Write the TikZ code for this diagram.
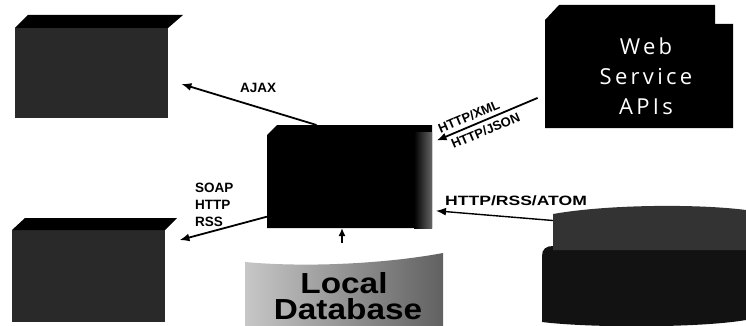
\documentclass[tikz,border=0pt]{standalone}
\usepackage{fontspec}
\setmainfont{Liberation Sans}
\newfontfamily\webfont[LetterSpace=15]{Open Sans}
\newfontfamily\widefont[FakeStretch=1.3]{Liberation Sans}
\newfontfamily\dbfont[FakeStretch=1.15]{Liberation Sans}
\usetikzlibrary{arrows.meta,calc}
\begin{document}
\begin{tikzpicture}[x=1pt,y=-1pt,
  hit/.style={draw=none,rectangle,inner sep=0pt,outer sep=0pt},
  lbl/.style={font=\fontsize{13.5}{16}\selectfont\bfseries,inner sep=0pt},
  rlbl/.style={font=\fontsize{13}{15}\selectfont\bfseries,inner sep=0pt},
  conn/.style={line width=1.8pt,-{Latex[length=10pt,width=8pt]}},
  darkbody/.style={fill=black!84},
  darktop/.style={fill=black}
]
\useasboundingbox (0,0) rectangle (746,326);

% ---- shapes ----
% top-left box
\fill[darkbody] (15,28) rectangle (168,118);
\fill[darktop] (15,28) -- (28,15) -- (183,15) -- (168,28) -- cycle;
% bottom-left box
\fill[darkbody] (12,230) rectangle (165,322);
\fill[darktop] (12,230) -- (25,218) -- (177,218) -- (165,230) -- cycle;
% centre box
\fill[black] (267,228) -- (267,135) -- (277,125) -- (432,125) -- (432,228) -- cycle;
\shade[left color=black,right color=black!60] (414,132) rectangle (432,228);
% web service box
\fill[black] (545,128) -- (545,20) -- (559,5) -- (715,5) -- (715,24) -- (733,24) -- (733,128) -- cycle;
% local database
\shade[left color=black!22,right color=black!62]
  (245,326) -- (245,262) .. controls (310,268) and (390,263) .. (443,253) -- (443,326) -- cycle;
% external source cylinder
\fill[black!93] (542,322) -- (542,256) .. controls (542,249) and (546,246) .. (553,246)
  -- (746,246) -- (746,320) .. controls (700,328) and (590,328) .. (542,322) -- cycle;
\fill[black!80] (553,250) -- (553,214) .. controls (610,204) and (700,204) .. (746,210)
  -- (746,250) -- cycle;

% ---- named nodes ----
\node[hit,minimum width=153pt,minimum height=103pt] (TL) at (91.5,66.5) {};
\node[hit,minimum width=153pt,minimum height=104pt] (BL) at (88.5,270) {};
\node[hit,minimum width=165pt,minimum height=103pt] (C) at (349.5,176.5) {};
\node[hit,minimum width=188pt,minimum height=123pt] (W) at (639,66.5) {};
\node[hit,minimum width=198pt,minimum height=71pt] (LDB) at (344,290.5) {};
\node[hit,minimum width=193pt,minimum height=44pt] (EXT) at (649.5,228) {};

\node[font=\webfont\fontsize{22}{30}\selectfont,text=white,align=center,inner sep=0pt] (Wtext) at (646,76) {Web\\Service\\APIs};
\node[font=\dbfont\fontsize{29}{29}\selectfont\bfseries,anchor=base,inner sep=0pt] (LDBa) at (344,293) {Local};
\node[font=\dbfont\fontsize{29}{29}\selectfont\bfseries,anchor=base,inner sep=0pt] (LDBb) at (348,319) {Database};

\node[lbl,anchor=base west] (ajax) at (240,93) {AJAX};
\node[lbl,anchor=base west] (soap) at (195,192) {SOAP};
\node[lbl,anchor=base west] (http) at (195,209) {HTTP};
\node[lbl,anchor=base west] (rss) at (195,226) {RSS};
\node[lbl,font=\widefont\fontsize{13.5}{16}\selectfont\bfseries,anchor=base west] (atom) at (445,205) {HTTP/RSS/ATOM};

% ---- connectors ----
\draw[conn,shorten >=14pt] ($(C.north west)!0.3!(C.north east)$) -- ($(TL.north east)!0.63!(TL.south east)$);
\draw[conn,shorten >=15pt] ($(C.north west)!0.89!(C.south west)$) -- ($(BL.north east)!0.25!(BL.south east)$);
\draw[conn,shorten <=8pt,shorten >=5pt] ($(W.north west)!0.73!(W.south west)$) -- ($(C.north east)!0.17!(C.south east)$)
  node[rlbl,pos=0.64,above=4pt,sloped] (xml) {HTTP/XML}
  node[rlbl,pos=0.56,below=4pt,sloped] (json) {HTTP/JSON};
\draw[conn,shorten >=4pt,line width=1.4pt] ($(EXT.north west)!0.33!(EXT.south west)$) -- ($(C.north east)!0.83!(C.south east)$);
\draw[line width=1.6pt,-{Latex[length=8pt,width=7pt]}] ($(LDB.north)+(-2,-12)$) -- ($(C.south)+(-7.5,0)$);
\end{tikzpicture}
\end{document}
